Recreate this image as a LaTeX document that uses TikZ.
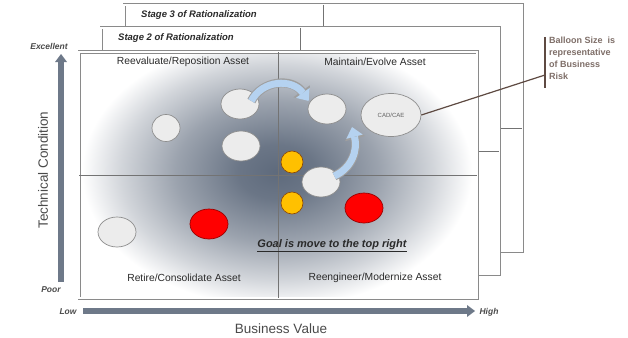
\documentclass[tikz,border=0pt]{standalone}
\usepackage{fontspec}
\setmainfont{Liberation Sans}
\usetikzlibrary{shapes.geometric,arrows.meta,positioning}

\definecolor{framegray}{HTML}{8A8A8A}
\definecolor{axisblue}{HTML}{6E7989}
\definecolor{balloonfill}{HTML}{ECECEC}
\definecolor{balloonline}{HTML}{8E8E8E}
\definecolor{riskred}{HTML}{FF0000}
\definecolor{riskamber}{HTML}{FFC000}
\definecolor{arrowblue}{HTML}{B5D2F0}
\definecolor{notebrown}{HTML}{5E4A42}
\definecolor{centregray}{HTML}{5E6A7C}
\definecolor{textdark}{HTML}{2A2A2A}

\pgfdeclareradialshading{glow}{\pgfpoint{0bp}{0bp}}{%
  color(0bp)=(centregray);
  color(5bp)=(centregray!92!white);
  color(13bp)=(centregray!62!white);
  color(20bp)=(centregray!28!white);
  color(25bp)=(white);
  color(50bp)=(white)}

\begin{document}
\begin{tikzpicture}[x=1pt, y=-1pt,
    sheet/.style={draw=framegray, line width=0.8pt, double=white, double distance=1.4pt, fill=white},
    quadline/.style={draw=gray!90!black, line width=0.8pt},
    stagelabel/.style={anchor=west, inner sep=0pt, text=textdark, font=\fontsize{9.5}{11}\selectfont\bfseries\itshape},
    quadlabel/.style={inner sep=0pt, text=textdark, font=\fontsize{10.3}{12}\selectfont},
    axislabel/.style={inner sep=0pt, text=textdark!85, font=\fontsize{8.5}{10}\selectfont\bfseries\itshape},
    axistitle/.style={inner sep=0pt, text=textdark!85, font=\fontsize{13.5}{16}\selectfont},
    axisarrow/.style={draw=axisblue, line width=6pt, -{Triangle[width=12pt,length=8pt,line width=0pt]}},
    balloon/.style={ellipse, draw=balloonline, fill=balloonfill, line width=0.7pt, minimum width=38, minimum height=30, inner sep=0pt},
    hot/.style={balloon, draw=red!60!black, fill=riskred},
    warm/.style={circle, draw=orange!55!black, fill=riskamber, line width=0.6pt, minimum size=22, inner sep=0pt},
    movearrow/.style={draw=arrowblue, line width=7pt, -{Triangle[width=17pt,length=10pt,line width=0pt]},
        preaction={draw=gray!75, line width=9pt, -{Triangle[width=20.5pt,length=12pt,line width=0pt]}}},
    note/.style={anchor=north west, align=left, inner sep=0pt, text=notebrown!80, font=\fontsize{9}{12}\selectfont\bfseries},
    noteline/.style={draw=notebrown, line width=1.2pt}
]
    \useasboundingbox (0,0) rectangle (628,337);

    % Back sheets: stage 3 and stage 2
    \foreach \ox/\oy/\n in {45/47/3, 22/24/2} {
        \draw[sheet] (79+\ox,52-\oy) rectangle (477+\ox,298-\oy);
        \draw[quadline] (278+\ox,52-\oy) -- (278+\ox,298-\oy)
                        (79+\ox,175-\oy) -- (477+\ox,175-\oy);
        \node[stagelabel] (stage\n) at (96+\ox,62-\oy) {Stage \n\ of Rationalization};
    }

    % Front sheet
    \draw[sheet] (79,52) rectangle (477,298);
    \begin{scope}
        \clip (81,54) rectangle (475,296);
        \shade[shading=glow] (277,172) ellipse (195 and 135);
    \end{scope}
    \draw[quadline] (278,52) -- (278,298) (79,175) -- (477,175);

    % Quadrant labels
    \node[quadlabel] (reevaluate) at (183,62) {Reevaluate/Reposition Asset};
    \node[quadlabel] (maintain) at (375,62) {Maintain/Evolve Asset};
    \node[quadlabel] (retire) at (184,278) {Retire/Consolidate Asset};
    \node[quadlabel] (reengineer) at (375,278) {Reengineer/Modernize Asset};
    \node[inner sep=0pt, text=textdark, font=\fontsize{11}{13}\selectfont\bfseries\itshape]
        (goal) at (332,246) {\underline{Goal is move to the top right}};

    % Balloons
    \node[balloon] (oldleft) at (117,232) {};
    \node[balloon, minimum width=28, minimum height=27] (small) at (166,128) {};
    \node[balloon] (movefrom) at (240,104) {};
    \node[balloon] (midleft) at (241,146) {};
    \node[balloon] (moveto) at (327,109) {};
    \node[balloon] (riseup) at (321,182) {};
    \node[balloon, minimum width=60, minimum height=43, text=gray!75!black,
          font=\fontsize{6}{7}\selectfont] (cad) at (391,115) {CAD/CAE};
    \node[hot] (redleft) at (209,224) {};
    \node[hot] (redright) at (364,208) {};
    \node[warm] (amberup) at (292,162) {};
    \node[warm] (amberdown) at (292,203) {};

    % Moves
    \coordinate (risetip) at (352,127);
    \draw[movearrow] ([shift={(-8,-3)}]movefrom.east) .. controls (262,80) and (292,78) .. ([shift={(1,-8)}]moveto.west);
    \draw[movearrow] ([shift={(-6,-6)}]riseup.east) .. controls (352,168) and (358,150) .. (risetip);

    % Axes
    \node[axislabel] (excellent) at (49,46) {Excellent};
    \node[axislabel] (poor) at (51,290) {Poor};
    \node[axislabel] (low) at (68,312) {Low};
    \node[axislabel] (high) at (489,312) {High};
    \coordinate (tcbase) at (61,282);
    \coordinate (tctop) at (61,54);
    \coordinate (bvbase) at (83,311);
    \coordinate (bvtip) at (475,311);
    \draw[axisarrow] (tcbase) -- (tctop);
    \draw[axisarrow] (bvbase) -- (bvtip);
    \node[axistitle, rotate=90] (technical) at (43,170) {Technical Condition};
    \node[axistitle] (business) at (281,329) {Business Value};

    % Legend
    \node[note] (legend) at (549,37) {Balloon Size\ \ is\\representative\\of Business\\Risk};
    \coordinate (bartop) at (545,37);
    \coordinate (barend) at (545,88);
    \coordinate (hook) at (545,75);
    \draw[noteline] (bartop) -- (barend);
    \draw[noteline] (cad.east) -- (hook);
\end{tikzpicture}
\end{document}
